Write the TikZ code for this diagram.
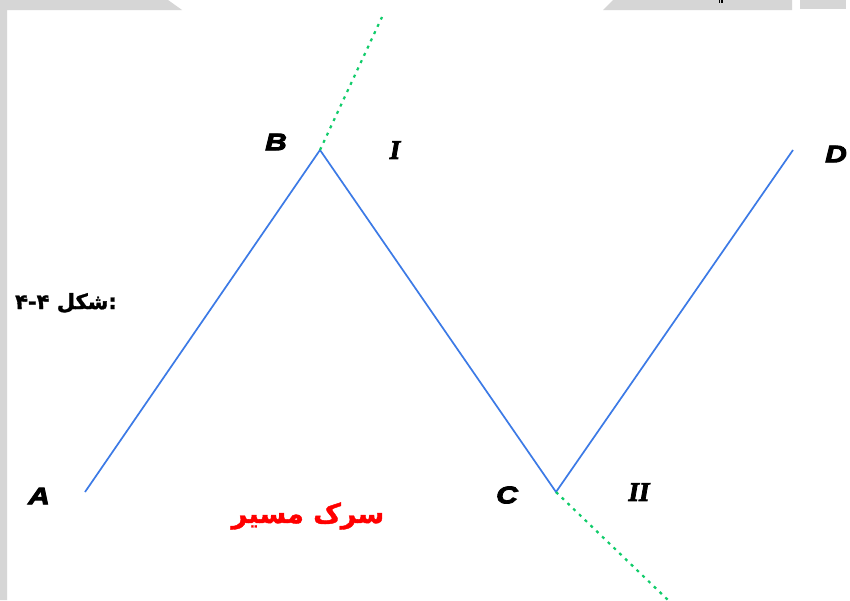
\documentclass[tikz,border=0pt]{standalone}
\usepackage{fontspec}
\TeXXeTstate=1
\newfontfamily\latinsans[FakeBold=4,FakeStretch=1.25]{Liberation Sans}
\newfontfamily\latinserif[FakeBold=3]{Liberation Serif}
\newfontfamily\arabicheavy[Script=Arabic,FakeBold=1.5]{DejaVu Sans}
\definecolor{bandgray}{HTML}{D6D6D6}
\definecolor{pathblue}{HTML}{3C7AE6}
\definecolor{guidegreen}{HTML}{10CC6A}
\begin{document}
\begin{tikzpicture}[x=1pt,y=-1pt,
  pathline/.style={draw=pathblue,line width=1.7pt},
  guideline/.style={draw=guidegreen,line width=2.2pt,dash pattern=on 3pt off 5pt},
  ptlabel/.style={font=\latinsans\bfseries\itshape\fontsize{24}{24}\selectfont,inner sep=0pt},
  romlabel/.style={font=\latinserif\bfseries\itshape\fontsize{27}{27}\selectfont,inner sep=0pt},
  arlabel/.style={inner sep=0pt}]
\useasboundingbox (0,0) rectangle (850,600);
\fill[white] (0,0) rectangle (850,600);
% gray page frame pieces
\fill[bandgray] (0,0) -- (168,0) -- (182,10) -- (7,10) -- (7,600) -- (0,600) -- cycle;
\fill[bandgray] (613,0) -- (792,0) -- (792,10) -- (603,10) -- cycle;
\fill[bandgray] (800,0) rectangle (846,9);
\fill[black] (718.5,0) rectangle (720,2.5);
\fill[black] (721,0) rectangle (722.5,2.5);
% points
\coordinate (pA) at (85,492);
\coordinate (pB) at (320,150);
\coordinate (pC) at (556,492);
\coordinate (pD) at (793,150);
\coordinate (gTop) at (382,17);
\coordinate (gBot) at (668,600);
% paths
\draw[pathline] (pA) -- (pB) -- (pC) -- (pD);
\draw[guideline] (pB) -- (gTop);
\draw[guideline] (pC) -- (gBot);
% labels
\node[ptlabel] (lA) at (39,496) {A};
\node[ptlabel] (lB) at (276,142) {B};
\node[romlabel] (lI) at (395,150) {I};
\node[ptlabel] (lC) at (507,495) {C};
\node[romlabel] (lII) at (639,492) {II};
\node[ptlabel] (lD) at (836,154) {D};
\node[arlabel,font=\arabicheavy\bfseries\fontsize{21}{21}\selectfont] (fig) at (66,303) {\beginR:شکل ۴-۴\endR};
\node[arlabel,text=red,font=\arabicheavy\bfseries\fontsize{27}{27}\selectfont] (road) at (308,516) {\beginR سرک مسیر\endR};
\end{tikzpicture}
\end{document}
